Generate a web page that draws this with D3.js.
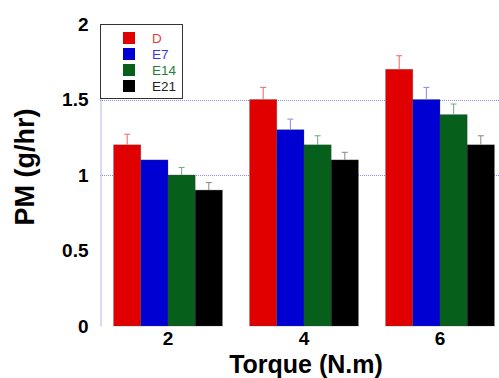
<!DOCTYPE html>
<html>
<head>
<meta charset="utf-8">
<script src="https://cdn.jsdelivr.net/npm/d3@7"></script>
<style>
  body { margin: 0; background: #fff; }
  svg { display: block; font-family: "Liberation Sans", Arial, sans-serif; }
</style>
</head>
<body>
<div id="chart"></div>
<script>
// values
var torque = ['2', '4', '6'];
var series = ['D', 'E7', 'E14', 'E21'];
var pmD   = [1.2, 1.5, 1.7];
var pmE7  = [1.1, 1.3, 1.5];
var pmE14 = [1.0, 1.2, 1.4];
var pmE21 = [0.9, 1.1, 1.2];
var errD   = [0.07, 0.08, 0.09];
var errE7  = [0, 0.07, 0.08];
var errE14 = [0.05, 0.06, 0.07];
var errE21 = [0.05, 0.05, 0.06];
var yTicks = [0, 0.5, 1, 1.5, 2];
var gridVals = [1, 1.5];

var values = [pmD, pmE7, pmE14, pmE21];
var errors = [errD, errE7, errE14, errE21];

var barColors = ['#e00000', '#0000d2', '#06601c', '#000000'];
var errColors = ['#f07070', '#9090f0', '#80b08a', '#909090'];
var textColors = ['#ec3b3b', '#3636ee', '#2b7d3b', '#222222'];

var w = 499, h = 378;

var svg = d3.select('#chart').append('svg')
  .attr('width', w)
  .attr('height', h);

var x0 = d3.scaleBand()
  .domain(torque)
  .range([100, 508])
  .paddingInner(0.2)
  .paddingOuter(0.1);

var x1 = d3.scaleBand()
  .domain(series)
  .range([0, x0.bandwidth()]);

var y0 = d3.scaleLinear()
  .domain([0, 2])
  .range([326, 24]);

// dotted grid lines
svg.append('g').selectAll('line')
  .data(gridVals)
  .enter().append('line')
  .attr('x1', 100)
  .attr('x2', w)
  .attr('y1', function(d) { return Math.round(y0(d)) + 0.5; })
  .attr('y2', function(d) { return Math.round(y0(d)) + 0.5; })
  .attr('stroke', '#8c8cf0')
  .attr('stroke-width', 1)
  .attr('stroke-dasharray', '1,1');

// y axis
var yAxis = svg.append('g')
  .attr('transform', 'translate(100.5,0)')
  .call(d3.axisLeft(y0).tickValues(yTicks).tickFormat(d3.format('')).tickSize(0).tickPadding(12));
yAxis.select('.domain').attr('stroke', '#b4b4ee');
yAxis.selectAll('text')
  .style('font-size', '19px')
  .style('font-weight', 'bold')
  .attr('fill', '#000');

// bars
var groups = svg.append('g').selectAll('g')
  .data(torque)
  .enter().append('g')
  .attr('transform', function(d) { return 'translate(' + x0(d) + ',0)'; });

groups.selectAll('rect')
  .data(function(d, i) {
    return series.map(function(s, j) { return {s: s, j: j, v: values[j][i], e: errors[j][i]}; });
  })
  .enter().append('rect')
  .attr('x', function(d) { return x1(d.s); })
  .attr('y', function(d) { return y0(d.v); })
  .attr('width', x1.bandwidth())
  .attr('height', function(d) { return y0(0) - y0(d.v); })
  .attr('fill', function(d) { return barColors[d.j]; })
  .attr('stroke', '#444')
  .attr('stroke-opacity', 0.35)
  .attr('stroke-width', 0.8);

// error bars (upper half only)
var errs = groups.selectAll('g.err')
  .data(function(d, i) {
    return series.map(function(s, j) { return {s: s, j: j, v: values[j][i], e: errors[j][i]}; })
      .filter(function(d) { return d.e > 0; });
  })
  .enter().append('g')
  .attr('class', 'err')
  .attr('stroke', function(d) { return errColors[d.j]; })
  .attr('stroke-width', 1.1);

errs.append('line')
  .attr('x1', function(d) { return x1(d.s) + x1.bandwidth() / 2; })
  .attr('x2', function(d) { return x1(d.s) + x1.bandwidth() / 2; })
  .attr('y1', function(d) { return y0(d.v); })
  .attr('y2', function(d) { return y0(d.v + d.e); });

errs.append('line')
  .attr('x1', function(d) { return x1(d.s) + x1.bandwidth() / 2 - 3; })
  .attr('x2', function(d) { return x1(d.s) + x1.bandwidth() / 2 + 3; })
  .attr('y1', function(d) { return y0(d.v + d.e); })
  .attr('y2', function(d) { return y0(d.v + d.e); });

// x axis labels
var xAxis = svg.append('g')
  .attr('transform', 'translate(0,' + y0(0) + ')')
  .call(d3.axisBottom(x0).tickSize(0).tickPadding(6));
xAxis.select('.domain').remove();
xAxis.selectAll('text')
  .style('font-size', '19px')
  .style('font-weight', 'bold')
  .attr('fill', '#000');

// axis titles
svg.append('text')
  .attr('x', 306)
  .attr('y', 373)
  .attr('text-anchor', 'middle')
  .style('font-size', '25px')
  .style('font-weight', 'bold')
  .text('Torque (N.m)');

svg.append('text')
  .attr('transform', 'translate(34,167) rotate(-90)')
  .attr('text-anchor', 'middle')
  .style('font-size', '27px')
  .style('font-weight', 'bold')
  .text('PM (g/hr)');

// legend
var legend = svg.append('g');
legend.append('rect')
  .attr('x', 100.5)
  .attr('y', 24.5)
  .attr('width', 82)
  .attr('height', 74)
  .attr('fill', '#fff')
  .attr('stroke', '#333')
  .attr('stroke-width', 1);

var items = legend.selectAll('g.item')
  .data(series)
  .enter().append('g')
  .attr('class', 'item')
  .attr('transform', function(d, i) { return 'translate(123,' + (32 + i * 16) + ')'; });

items.append('rect')
  .attr('width', 12)
  .attr('height', 12)
  .attr('fill', function(d, i) { return barColors[i]; });

items.append('text')
  .attr('x', 29)
  .attr('y', 11)
  .style('font-size', '13.5px')
  .attr('fill', function(d, i) { return textColors[i]; })
  .text(function(d) { return d; });
</script>
</body>
</html>
